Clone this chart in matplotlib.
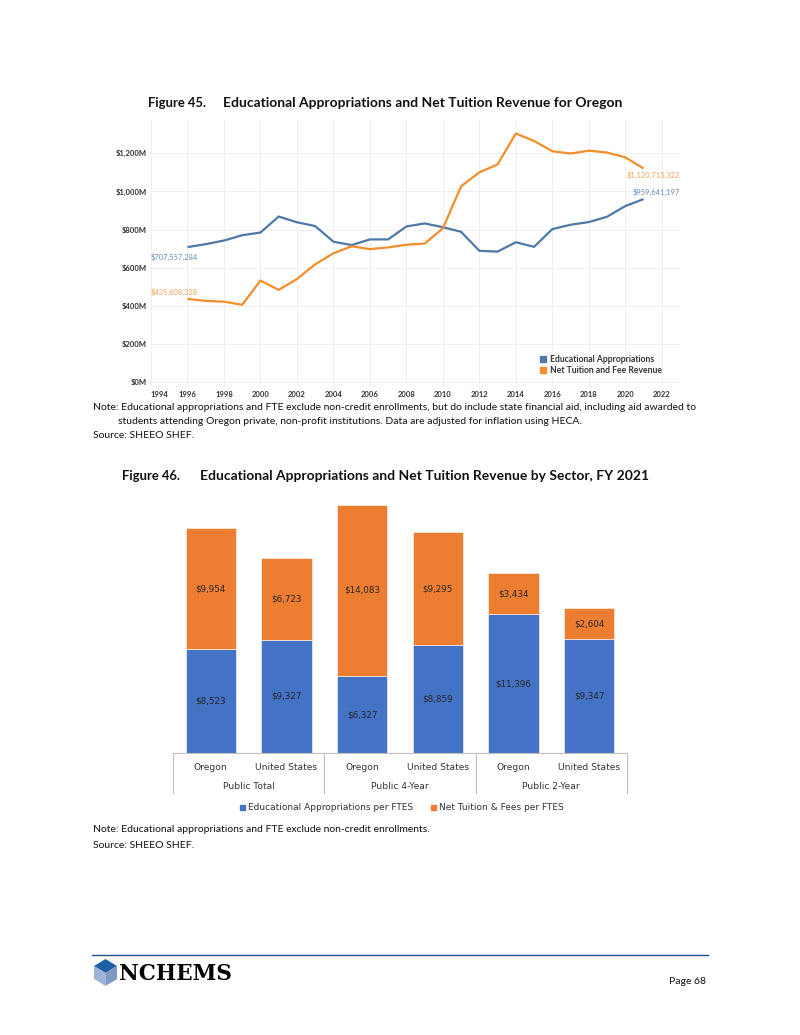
import matplotlib
matplotlib.use("Agg")
import matplotlib.pyplot as plt
from matplotlib.patches import Polygon, Rectangle
from matplotlib.lines import Line2D
import matplotlib.transforms as mtransforms

plt.rcParams['font.family'] = ['Lato', 'DejaVu Sans']

# Figure 45 : millions de dollars (ajustés HECA)
annees = list(range(1996, 2022))
ed_approp = [707.6, 723, 742, 770, 784, 868, 838, 818, 736, 718, 748, 748, 816,
             832, 812, 788, 688, 684, 733, 709, 802, 825, 839, 867, 923, 959.6]
net_tuition = [435.6, 425, 421, 405, 532, 483, 540, 617, 675, 712, 697, 706, 720,
               726, 806, 1027, 1100, 1142, 1304, 1265, 1211, 1199, 1214, 1204, 1179, 1120.7]
yticks_45 = [0, 200, 400, 600, 800, 1000, 1200]
xticks_45 = list(range(1994, 2023, 2))

# Figure 46 : par FTES, FY 2021
secteurs = ['Public Total', 'Public 4-Year', 'Public 2-Year']
etats = ['Oregon', 'United States', 'Oregon', 'United States', 'Oregon', 'United States']
approp_fte = [8523, 9327, 6327, 8859, 11396, 9347]
tuition_fte = [9954, 6723, 14083, 9295, 3434, 2604]

W, H = 800, 1035
fig = plt.figure(figsize=(W / 100, H / 100), dpi=100)


def px(x, y):
    "pixels de la page -> fraction de figure"
    return (x / W, 1 - y / H)


def ftext(x, y, s, **kw):
    fx, fy = px(x, y)
    fig.text(fx, fy, s, **kw)


bleu = '#4E79A7'
orange = '#F28E2B'
note_fs = 7.5

# ---------------- Figure 45 ----------------
ftext(148, 103, 'Figure 45.', fontsize=9.4, fontweight='bold', va='center', color='#111111')
ftext(223, 103, 'Educational Appropriations and Net Tuition Revenue for Oregon',
      fontsize=10, fontweight='bold', va='center', color='#111111')

l, b = px(151, 387)
r, t = px(680, 120)
ax = fig.add_axes([l, b, r - l, t - b])
ax.plot(annees, ed_approp, color=bleu, lw=1.6, solid_capstyle='butt')
ax.plot(annees, net_tuition, color=orange, lw=1.6, solid_capstyle='butt')
ax.set_xlim(1994, 2023)
ax.set_ylim(-27, 1375)
ax.set_xticks(xticks_45)
ax.set_yticks(yticks_45)
ax.set_yticklabels(['$%sM' % format(v, ',') for v in yticks_45])
ax.grid(True, color='#EFEFEF', lw=0.7)
ax.set_axisbelow(True)
for s in ax.spines.values():
    s.set_visible(False)
ax.tick_params(length=0, labelsize=5.5, colors='#333333', pad=3)
for lab in ax.get_xticklabels() + ax.get_yticklabels():
    lab.set_fontweight('bold')
ax.get_xticklabels()[0].set_horizontalalignment('left')

ax.text(1994, 657, '$707,557,284', color='#6A8DB5', fontsize=5.4, va='center', ha='left')
ax.text(1994, 472, '$435,608,328', color='#F3A35A', fontsize=5.4, va='center', ha='left')
ax.text(2023, 1085, '$1,120,715,322', color='#F3A35A', fontsize=5.4, va='center', ha='right')
ax.text(2023, 995, '$959,641,197', color='#6A8DB5', fontsize=5.4, va='center', ha='right')

hand = [Rectangle((0, 0), 1, 1, color=bleu), Rectangle((0, 0), 1, 1, color=orange)]
leg = ax.legend(hand, ['Educational Appropriations', 'Net Tuition and Fee Revenue'],
                loc='upper left', bbox_to_anchor=((540 - 151) / 529, (387 - 355) / 267),
                frameon=False, fontsize=6.2, handlelength=0.7, handleheight=0.7,
                handletextpad=0.45, labelspacing=0.25, borderpad=0, borderaxespad=0)
for tx in leg.get_texts():
    tx.set_fontweight('bold')
    tx.set_color('#333333')

ftext(93, 408, 'Note: Educational appropriations and FTE exclude non-credit enrollments, but do include '
      'state financial aid, including aid awarded to', fontsize=note_fs, va='center', color='#111111')
ftext(118, 422, 'students attending Oregon private, non-profit institutions. Data are adjusted for '
      'inflation using HECA.', fontsize=note_fs, va='center', color='#111111')
ftext(93, 436, 'Source: SHEEO SHEF.', fontsize=note_fs, va='center', color='#111111')

# ---------------- Figure 46 ----------------
ftext(122, 476, 'Figure 46.', fontsize=9.4, fontweight='bold', va='center', color='#111111')
ftext(200, 476, 'Educational Appropriations and Net Tuition Revenue by Sector, FY 2021',
      fontsize=10, fontweight='bold', va='center', color='#111111')

l, b = px(173, 753)
r, t = px(627, 495)
bx = fig.add_axes([l, b, r - l, t - b])
pos = list(range(len(etats)))
bx.bar(pos, approp_fte, width=0.667, color='#4472C4', edgecolor='white', linewidth=0.4)
bx.bar(pos, tuition_fte, width=0.667, bottom=approp_fte, color='#ED7D31',
       edgecolor='white', linewidth=0.4)
for i in pos:
    bx.text(i, approp_fte[i] / 2, '$' + format(approp_fte[i], ','), ha='center', va='center',
            fontsize=6.3, color='#262626', family=['DejaVu Sans'])
    bx.text(i, approp_fte[i] + tuition_fte[i] / 2, '$' + format(tuition_fte[i], ','),
            ha='center', va='center', fontsize=6.3, color='#262626', family=['DejaVu Sans'])
bx.set_xlim(-0.5, 5.5)
bx.set_ylim(0, 21217)
bx.axis('off')

trans = mtransforms.blended_transform_factory(bx.transData, bx.transAxes)
gris = '#BFBFBF'
bx.add_line(Line2D([-0.5, 5.5], [0, 0], transform=trans, color=gris, lw=0.8, clip_on=False))
for xs in [-0.5, 1.5, 3.5, 5.5]:
    bx.add_line(Line2D([xs, xs], [0, -40 / 258], transform=trans, color=gris, lw=0.8,
                       clip_on=False))
for i in pos:
    bx.text(i, -14 / 258, etats[i], transform=trans, ha='center', va='center',
            fontsize=6.6, color='#333333', family=['DejaVu Sans'])
for k, sct in enumerate(secteurs):
    bx.text(2 * k + 0.5, -33.5 / 258, sct, transform=trans, ha='center', va='center',
            fontsize=6.6, color='#333333', family=['DejaVu Sans'])

hand2 = [Rectangle((0, 0), 1, 1, color='#4472C4'), Rectangle((0, 0), 1, 1, color='#ED7D31')]
leg2 = bx.legend(hand2, ['Educational Appropriations per FTES', 'Net Tuition & Fees per FTES'],
                 loc='center', bbox_to_anchor=((402 - 173) / 454, -55 / 258), ncol=2,
                 frameon=False, handlelength=0.55, handleheight=0.55, handletextpad=0.3,
                 columnspacing=2.0, prop={'family': ['DejaVu Sans'], 'size': 6.5})
for tx in leg2.get_texts():
    tx.set_color('#333333')

ftext(93, 829, 'Note: Educational appropriations and FTE exclude non-credit enrollments.',
      fontsize=note_fs, va='center', color='#111111')
ftext(93, 846, 'Source: SHEEO SHEF.', fontsize=note_fs, va='center', color='#111111')

# ---------------- pied de page ----------------
fig.add_artist(Line2D([92 / W, 708 / W], [1 - 955 / H, 1 - 955 / H], color='#1F4E8C', lw=1.0))
faces = [
    ([(94, 966), (105.5, 959), (117, 966), (105.5, 973)], '#1F5FA8'),
    ([(94, 966), (105.5, 973), (105.5, 986), (94, 979)], '#9FB3D6'),
    ([(105.5, 973), (117, 966), (117, 979), (105.5, 986)], '#7F99C4'),
]
for pts, c in faces:
    fig.add_artist(Polygon([px(x, y) for x, y in pts], closed=True, facecolor=c,
                           edgecolor='none', transform=fig.transFigure))
ftext(119, 974, 'NCHEMS', fontsize=15.5, fontweight='bold', family=['DejaVu Serif'],
      va='center', ha='left', color='black')
ftext(706, 982, 'Page 68', fontsize=7.5, va='center', ha='right', color='#111111')

fig.savefig('out.png', dpi=100, facecolor='white')
